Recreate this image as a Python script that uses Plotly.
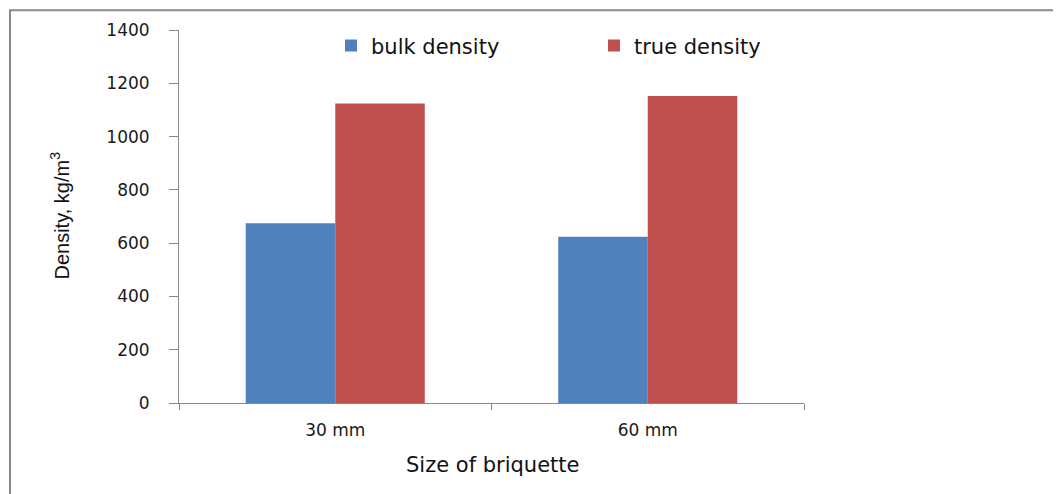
import plotly.graph_objects as go

categories = ["30 mm", "60 mm"]
bulk_density = [675, 624]
true_density = [1124, 1152]
series_names = ["bulk density", "true density"]
y_ticks = [0, 200, 400, 600, 800, 1000, 1200, 1400]

W, H = 1061, 494
OFF = 8  # page body margin
L, R, T, B = 179 - OFF, 257 + OFF, 27 - OFF, 91 + OFF
pw = W - L - R
ph = H - T - B

def px_x(x):
    return (x - OFF - L) / pw

def px_y(y):
    return (H - B - (y - OFF)) / ph

fig = go.Figure()
fig.add_trace(go.Bar(x=categories, y=bulk_density, name=series_names[0],
                     marker=dict(color="#4F81BD", line=dict(width=0))))
fig.add_trace(go.Bar(x=categories, y=true_density, name=series_names[1],
                     marker=dict(color="#C0504D", line=dict(width=0))))

axis_col = "#868686"
fig.update_layout(
    width=W, height=H,
    margin=dict(l=L, r=R, t=T, b=B, pad=0),
    paper_bgcolor="white", plot_bgcolor="white",
    barmode="group", bargap=0.427, bargroupgap=0,
    font=dict(family="DejaVu Sans, Verdana, sans-serif", color="#1a1a1a"),
    showlegend=True,
    legend=dict(orientation="h", x=px_x(331), y=px_y(43), xanchor="left", yanchor="middle",
                font=dict(size=21, family="DejaVu Sans, Verdana, sans-serif", color="#111"),
                entrywidth=218, entrywidthmode="pixels", bgcolor="rgba(0,0,0,0)",
                itemsizing="constant", traceorder="normal"),
    xaxis=dict(showline=True, linecolor=axis_col, linewidth=1, ticks="outside",
               tickson="boundaries", ticklen=6, tickcolor=axis_col, showgrid=False,
               ticklabelstandoff=12,
               tickfont=dict(size=17, color="#1a1a1a"), zeroline=False),
    yaxis=dict(range=[0, 1400], tickvals=y_ticks, showline=True, linecolor=axis_col,
               linewidth=1, ticks="outside", ticklen=9, tickcolor=axis_col,
               showgrid=False, zeroline=False, ticklabelstandoff=16,
               tickfont=dict(size=17, color="#1a1a1a")),
)

fig.add_annotation(text="Size of briquette", xref="paper", yref="paper",
                   x=px_x(492), y=px_y(465), xanchor="center", yanchor="middle",
                   showarrow=False, font=dict(size=21, family="DejaVu Sans, Verdana, sans-serif", color="#111"))
fig.add_annotation(text="Density, kg/m<sup>3</sup>", xref="paper", yref="paper",
                   x=px_x(60), y=px_y(214), xanchor="center", yanchor="middle", textangle=-90,
                   showarrow=False,
                   font=dict(size=20, family="Liberation Sans Narrow, Arial Narrow, Liberation Sans, sans-serif", color="#111"))

fig.add_shape(type="rect", xref="paper", yref="paper",
              x0=px_x(10), y0=px_y(530), x1=px_x(1110), y1=px_y(7),
              line=dict(color="#8a8a8a", width=2), fillcolor="rgba(0,0,0,0)", layer="below")

fig.write_html("out.html")
